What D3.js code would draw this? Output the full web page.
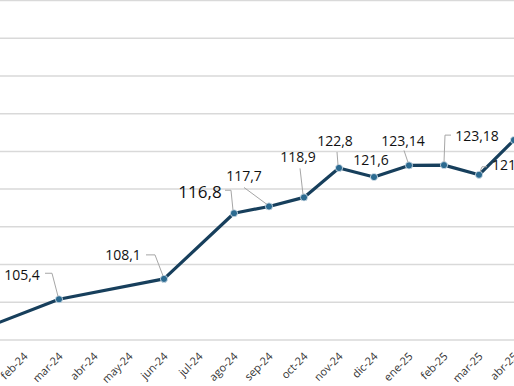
<!DOCTYPE html>
<html>
<head>
<meta charset="utf-8">
<script src="https://cdn.jsdelivr.net/npm/d3@7"></script>
<style>
  html, body { margin: 0; padding: 0; background: #fff; overflow: hidden; }
</style>
</head>
<body>
<script>

// --- data ---
var months = ["dic-23", "ene-24", "feb-24", "mar-24", "abr-24", "may-24", "jun-24", "jul-24",
              "ago-24", "sep-24", "oct-24", "nov-24", "dic-24", "ene-25", "feb-25", "mar-25", "abr-25"];

var pointMonths = ["dic-23", "mar-24", "jun-24", "ago-24", "sep-24", "oct-24", "nov-24",
                   "dic-24", "ene-25", "feb-25", "mar-25", "abr-25"];
var pointValues = [100, 105.4, 108.1, 116.8, 117.7, 118.9, 122.8, 121.6, 123.14, 123.18, 121.9, 126.5];

var gridValues = [100, 105, 110, 115, 120, 125, 130, 135, 140, 145];

// --- label placement (offsets from the marker) ---
var labelLayout = {
    "mar-24": {dx: -37, dy: -24, lead: [[-14, -26], [-7, -26], [-1, -3]]},
    "jun-24": {dx: -41, dy: -24, lead: [[-18, -24], [-9, -24], [-1, -3]]},
    "ago-24": {dx: -34, dy: -21, big: true, lead: [[-9, -23], [-3, -23], [-1, -3]]},
    "sep-24": {dx: -25, dy: -31, lead: [[-25, -19], [-2, -2]]},
    "oct-24": {dx: -6, dy: -40, lead: [[-4, -29], [-1, -3]]},
    "nov-24": {dx: -4, dy: -27, lead: [[-2, -16], [-1, -3]]},
    "dic-24": {dx: -3, dy: -17, lead: null},
    "ene-25": {dx: -6, dy: -24, lead: [[-5, -15], [-1, -3]]},
    "feb-25": {dx: 33, dy: -29, lead: [[7, -30], [1, -30], [0, -3]]},
    "mar-25": {dx: 13, dy: -10, anchor: "start", lead: [[8, -8], [3, -8], [1, -3]]}
};

var width = 514, height = 386;

var svg = d3.select("body").append("svg")
    .attr("width", width)
    .attr("height", height);

// --- scales ---
var x = d3.scalePoint()
    .domain(months)
    .range([-46, 514]);

var y = d3.scaleLinear()
    .domain([100, 145])
    .range([340, 0.5]);

// --- gridlines ---
svg.append("g").selectAll("line")
    .data(gridValues)
    .join("line")
    .attr("x1", 0)
    .attr("x2", width)
    .attr("y1", function(d) { return y(d); })
    .attr("y2", function(d) { return y(d); })
    .attr("stroke", "#d9d9d9")
    .attr("stroke-width", 1.5);

// --- x axis (labels only) ---
var xAxis = d3.axisBottom(x)
    .tickValues(months.slice(2))
    .tickSize(0)
    .tickPadding(0);

var ax = svg.append("g")
    .attr("transform", "translate(0," + y(100) + ")")
    .call(xAxis);

ax.select(".domain").remove();

ax.selectAll("text")
    .attr("y", 0)
    .attr("dy", 0)
    .attr("transform", "translate(4,17) rotate(-45)")
    .attr("text-anchor", "end")
    .attr("font-family", '"Open Sans", sans-serif')
    .attr("font-size", "11px")
    .attr("fill", "#333");

// --- line + markers ---
var pts = pointMonths.map(function(m, i) { return {m: m, v: pointValues[i]}; });

var line = d3.line()
    .x(function(d) { return x(d.m); })
    .y(function(d) { return y(d.v); });

svg.append("path")
    .datum(pts)
    .attr("d", line)
    .attr("fill", "none")
    .attr("stroke", "#173f5c")
    .attr("stroke-width", 3.2)
    .attr("stroke-linejoin", "round");

svg.append("g").selectAll("circle")
    .data(pts)
    .join("circle")
    .attr("cx", function(d) { return x(d.m); })
    .attr("cy", function(d) { return y(d.v); })
    .attr("r", 3.6)
    .attr("fill", "#2b6a90")
    .attr("stroke", "#dfe9f0")
    .attr("stroke-width", 0.8);

// --- data labels with leader lines ---
var labelled = pts.filter(function(d) { return labelLayout[d.m]; });

var lab = svg.append("g").selectAll("g")
    .data(labelled)
    .join("g")
    .attr("transform", function(d) { return "translate(" + x(d.m) + "," + y(d.v) + ")"; });

lab.filter(function(d) { return labelLayout[d.m].lead; })
    .append("path")
    .attr("d", function(d) { return d3.line()(labelLayout[d.m].lead); })
    .attr("fill", "none")
    .attr("stroke", "#a6a6a6")
    .attr("stroke-width", 1);

lab.append("text")
    .text(function(d) { return String(d.v).replace(".", ","); })
    .attr("x", function(d) { return labelLayout[d.m].dx; })
    .attr("y", function(d) { return labelLayout[d.m].dy; })
    .attr("dy", "0.36em")
    .attr("text-anchor", function(d) { return labelLayout[d.m].anchor || "middle"; })
    .attr("font-family", '"Open Sans", sans-serif')
    .attr("font-size", function(d) { return labelLayout[d.m].big ? "17px" : "14px"; })
    .attr("fill", "#111");

</script>
</body>
</html>
